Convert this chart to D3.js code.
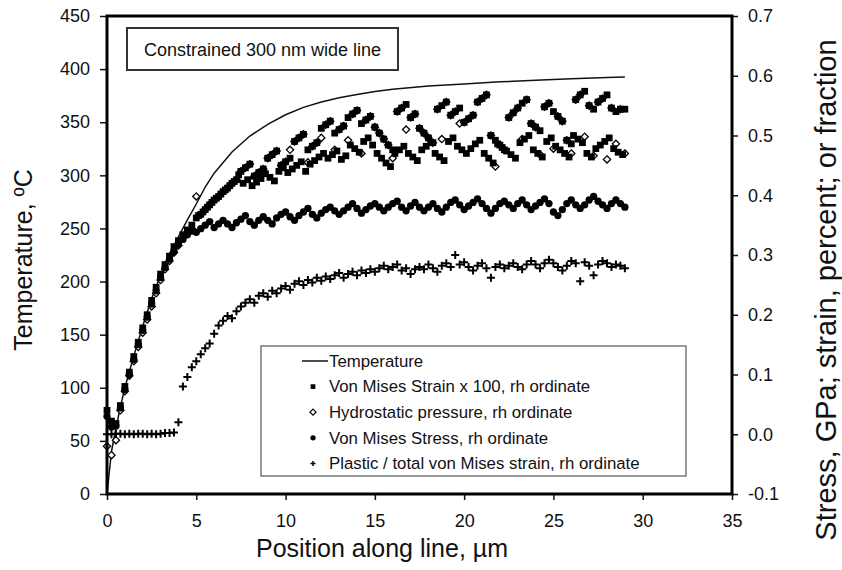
<!DOCTYPE html>
<html>
<head>
<meta charset="utf-8">
<script src="https://cdn.jsdelivr.net/npm/d3@7"></script>
<style>
  body { margin: 0; background: #fff; }
  text { font-family: "Liberation Sans", Arial, sans-serif; fill: #111; }
</style>
</head>
<body>
<div id="chart"></div>
<script>
// axis ticks
const xTicks = [0, 5, 10, 15, 20, 25, 30, 35];
const leftTicks = [0, 50, 100, 150, 200, 250, 300, 350, 400, 450];
const rightTicks = [-0.1, 0.0, 0.1, 0.2, 0.3, 0.4, 0.5, 0.6, 0.7];

// temperature curve (left ordinate)
const tempPos = [0, 0.25, 0.5, 0.75, 1, 1.5, 2, 2.5, 3, 3.5, 4, 4.5, 5, 5.5, 6, 7, 8, 9, 10, 11,
  12, 13, 14, 15, 16, 18, 20, 22, 24, 26, 28, 29];
const tempValues = [0, 40, 62, 82, 100, 130, 158, 184, 206, 226, 242, 258, 273, 289, 302, 322, 337, 348, 357, 364,
  369, 373, 376, 379, 381, 384, 386, 388, 389.5, 391, 392, 392.5];

// node positions along the line, um
const positions = [0, 0.25, 0.5, 0.75, 1, 1.25, 1.5, 1.75, 2, 2.25,
  2.5, 2.75, 3, 3.25, 3.5, 3.75, 4, 4.25, 4.5, 4.75,
  5, 5.25, 5.5, 5.75, 6, 6.25, 6.5, 6.75, 7, 7.25,
  7.5, 7.75, 8, 8.25, 8.5, 8.75, 9, 9.25, 9.5, 9.75,
  10, 10.25, 10.5, 10.75, 11, 11.25, 11.5, 11.75, 12, 12.25,
  12.5, 12.75, 13, 13.25, 13.5, 13.75, 14, 14.25, 14.5, 14.75,
  15, 15.25, 15.5, 15.75, 16, 16.25, 16.5, 16.75, 17, 17.25,
  17.5, 17.75, 18, 18.25, 18.5, 18.75, 19, 19.25, 19.5, 19.75,
  20, 20.25, 20.5, 20.75, 21, 21.25, 21.5, 21.75, 22, 22.25,
  22.5, 22.75, 23, 23.25, 23.5, 23.75, 24, 24.25, 24.5, 24.75,
  25, 25.25, 25.5, 25.75, 26, 26.25, 26.5, 26.75, 27, 27.25,
  27.5, 27.75, 28, 28.25, 28.5, 28.75, 29];

// extra strain nodes between the main ones (beyond 5 um)
const midPositions = [5.125, 5.375, 5.625, 5.875, 6.125, 6.375, 6.625, 6.875, 7.125, 7.375,
  7.625, 7.875, 8.125, 8.375, 8.625, 8.875, 9.125, 9.375, 9.625, 9.875,
  10.125, 10.375, 10.625, 10.875, 11.125, 11.375, 11.625, 11.875, 12.125, 12.375,
  12.625, 12.875, 13.125, 13.375, 13.625, 13.875, 14.125, 14.375, 14.625, 14.875,
  15.125, 15.375, 15.625, 15.875, 16.125, 16.375, 16.625, 16.875, 17.125, 17.375,
  17.625, 17.875, 18.125, 18.375, 18.625, 18.875, 19.125, 19.375, 19.625, 19.875,
  20.125, 20.375, 20.625, 20.875, 21.125, 21.375, 21.625, 21.875, 22.125, 22.375,
  22.625, 22.875, 23.125, 23.375, 23.625, 23.875, 24.125, 24.375, 24.625, 24.875,
  25.125, 25.375, 25.625, 25.875, 26.125, 26.375, 26.625, 26.875, 27.125, 27.375,
  27.625, 27.875, 28.125, 28.375, 28.625, 28.875];

// von mises strain x 100 (rh ordinate)
const strainValues = [0.040, 0.022, 0.018, 0.048, 0.080, 0.104, 0.130, 0.154, 0.178, 0.200,
  0.224, 0.246, 0.268, 0.284, 0.298, 0.314, 0.324, 0.334, 0.342, 0.350,
  0.362, 0.368, 0.376, 0.384, 0.392, 0.398, 0.406, 0.412, 0.420, 0.426,
  0.440, 0.446, 0.452, 0.432, 0.438, 0.444, 0.462, 0.468, 0.474, 0.450,
  0.456, 0.462, 0.490, 0.496, 0.502, 0.476, 0.482, 0.488, 0.512, 0.518,
  0.524, 0.504, 0.510, 0.516, 0.530, 0.536, 0.542, 0.520, 0.526, 0.532,
  0.514, 0.504, 0.494, 0.484, 0.476, 0.540, 0.546, 0.552, 0.530, 0.536,
  0.512, 0.504, 0.496, 0.488, 0.544, 0.550, 0.556, 0.534, 0.540, 0.546,
  0.522, 0.528, 0.534, 0.556, 0.562, 0.568, 0.500, 0.492, 0.484, 0.476,
  0.530, 0.538, 0.546, 0.554, 0.560, 0.520, 0.514, 0.508, 0.548, 0.554,
  0.540, 0.532, 0.524, 0.492, 0.486, 0.560, 0.568, 0.574, 0.550, 0.544,
  0.556, 0.562, 0.568, 0.546, 0.540, 0.544, 0.544];
const strainMidValues = [0.366, 0.372, 0.380, 0.388, 0.395, 0.402, 0.409, 0.416, 0.423, 0.434,
  0.420, 0.426, 0.416, 0.422, 0.428, 0.436, 0.430, 0.424, 0.440, 0.446,
  0.438, 0.444, 0.450, 0.456, 0.440, 0.452, 0.458, 0.464, 0.470, 0.462,
  0.468, 0.474, 0.460, 0.466, 0.484, 0.478, 0.472, 0.490, 0.496, 0.484,
  0.470, 0.462, 0.454, 0.448, 0.470, 0.476, 0.482, 0.470, 0.464, 0.458,
  0.476, 0.482, 0.488, 0.470, 0.464, 0.458, 0.490, 0.496, 0.482, 0.476,
  0.470, 0.478, 0.486, 0.492, 0.470, 0.462, 0.454, 0.486, 0.480, 0.474,
  0.468, 0.462, 0.488, 0.494, 0.500, 0.476, 0.470, 0.464, 0.490, 0.496,
  0.482, 0.476, 0.470, 0.464, 0.500, 0.494, 0.488, 0.470, 0.464, 0.478,
  0.484, 0.490, 0.496, 0.478, 0.472, 0.468];

// hydrostatic pressure (rh ordinate)
const pressureValues = [-0.020, -0.035, -0.010, 0.040, 0.072, 0.098, 0.122, 0.146, 0.170, 0.192,
  0.214, 0.236, 0.258, 0.276, 0.290, 0.304, 0.316, 0.328, 0.336, 0.344,
  0.398, 0.368, 0.376, 0.384, 0.392, 0.398, 0.406, 0.412, 0.420, 0.426,
  0.440, 0.446, 0.452, 0.432, 0.438, 0.444, 0.462, 0.468, 0.474, 0.450,
  0.456, 0.476, 0.490, 0.496, 0.502, 0.455, 0.482, 0.488, 0.496, 0.518,
  0.524, 0.476, 0.510, 0.516, 0.492, 0.536, 0.542, 0.470, 0.526, 0.532,
  0.514, 0.504, 0.494, 0.484, 0.462, 0.540, 0.546, 0.510, 0.530, 0.536,
  0.512, 0.504, 0.496, 0.488, 0.544, 0.494, 0.556, 0.534, 0.540, 0.520,
  0.522, 0.528, 0.534, 0.556, 0.562, 0.568, 0.500, 0.448, 0.484, 0.476,
  0.530, 0.538, 0.546, 0.494, 0.560, 0.520, 0.514, 0.468, 0.548, 0.554,
  0.478, 0.532, 0.524, 0.492, 0.470, 0.560, 0.568, 0.498, 0.550, 0.466,
  0.556, 0.562, 0.460, 0.546, 0.486, 0.544, 0.470];

// von mises stress, GPa (rh ordinate)
const stressValues = [0.030, 0.012, 0.014, 0.044, 0.075, 0.100, 0.125, 0.150, 0.174, 0.196,
  0.218, 0.240, 0.262, 0.279, 0.293, 0.306, 0.318, 0.326, 0.334, 0.340,
  0.338, 0.344, 0.350, 0.356, 0.346, 0.352, 0.358, 0.352, 0.346, 0.354,
  0.360, 0.366, 0.356, 0.350, 0.358, 0.364, 0.358, 0.352, 0.362, 0.368,
  0.372, 0.364, 0.358, 0.366, 0.372, 0.378, 0.368, 0.362, 0.370, 0.376,
  0.380, 0.374, 0.368, 0.374, 0.380, 0.386, 0.378, 0.370, 0.376, 0.382,
  0.386, 0.380, 0.374, 0.380, 0.386, 0.390, 0.380, 0.374, 0.382, 0.388,
  0.380, 0.374, 0.380, 0.386, 0.378, 0.372, 0.380, 0.388, 0.392, 0.384,
  0.376, 0.382, 0.388, 0.394, 0.386, 0.378, 0.370, 0.378, 0.386, 0.390,
  0.384, 0.378, 0.386, 0.392, 0.384, 0.376, 0.382, 0.388, 0.394, 0.386,
  0.372, 0.366, 0.376, 0.386, 0.392, 0.384, 0.378, 0.384, 0.392, 0.398,
  0.390, 0.384, 0.378, 0.386, 0.392, 0.386, 0.380];

// plastic / total von mises strain (rh ordinate)
const plasticValues = [0.000, 0.000, 0.001, 0.001, 0.000, 0.001, 0.000, 0.001, 0.001, 0.000,
  0.001, 0.000, 0.001, 0.002, 0.002, 0.003, 0.020, 0.080, 0.096, 0.112,
  0.122, 0.134, 0.144, 0.152, 0.168, 0.182, 0.190, 0.198, 0.194, 0.206,
  0.214, 0.220, 0.226, 0.220, 0.232, 0.236, 0.230, 0.240, 0.236, 0.244,
  0.248, 0.242, 0.252, 0.256, 0.250, 0.258, 0.254, 0.262, 0.257, 0.264,
  0.260, 0.266, 0.270, 0.262, 0.268, 0.272, 0.266, 0.274, 0.270, 0.276,
  0.272, 0.278, 0.282, 0.276, 0.280, 0.284, 0.274, 0.278, 0.268, 0.276,
  0.280, 0.276, 0.284, 0.278, 0.272, 0.282, 0.286, 0.280, 0.300, 0.284,
  0.288, 0.280, 0.274, 0.282, 0.286, 0.278, 0.262, 0.280, 0.284, 0.278,
  0.282, 0.286, 0.280, 0.276, 0.284, 0.290, 0.284, 0.278, 0.286, 0.292,
  0.286, 0.280, 0.274, 0.282, 0.290, 0.286, 0.256, 0.288, 0.282, 0.266,
  0.284, 0.290, 0.286, 0.280, 0.284, 0.282, 0.278];

const legendNames = ['Temperature', 'Von Mises Strain x 100, rh ordinate', 'Hydrostatic pressure, rh ordinate',
  'Von Mises Stress, rh ordinate', 'Plastic / total von Mises strain, rh ordinate'];

// plot box
const plot = { left: 107, right: 732, top: 16, bottom: 494 };

const svg = d3.select('#chart')
  .append('svg')
  .attr('width', 842)
  .attr('height', 570);

// scales
const x = d3.scaleLinear().domain([0, 35]).range([plot.left, plot.right]);
const yLeft = d3.scaleLinear().domain([0, 450]).range([plot.bottom, plot.top]);
const yRight = d3.scaleLinear().domain([-0.1, 0.7]).range([plot.bottom, plot.top]);

// axes
const styleAxis = g => {
  g.select('.domain').remove();
  g.selectAll('.tick line').attr('stroke', '#111').attr('stroke-width', 1.5);
  g.selectAll('.tick text').attr('font-size', 18).attr('fill', '#111');
};
svg.append('g')
  .attr('transform', `translate(${plot.left},0)`)
  .call(d3.axisLeft(yLeft).tickValues(leftTicks).tickSize(7).tickPadding(10))
  .call(styleAxis);
svg.append('g')
  .attr('transform', `translate(0,${plot.bottom})`)
  .call(d3.axisBottom(x).tickValues(xTicks).tickSize(6).tickPadding(14))
  .call(styleAxis);
svg.append('g')
  .attr('transform', `translate(${plot.right},0)`)
  .call(d3.axisRight(yRight).tickValues(rightTicks).tickSize(6).tickPadding(10).tickFormat(d => d.toFixed(1)))
  .call(styleAxis);

// axis titles
svg.append('text')
  .attr('transform', 'translate(32,260) rotate(-90)')
  .attr('text-anchor', 'middle')
  .attr('font-size', 25)
  .text('Temperature, ºC');
svg.append('text')
  .attr('x', 382)
  .attr('y', 557)
  .attr('text-anchor', 'middle')
  .attr('font-size', 25)
  .text('Position along line, µm');
svg.append('text')
  .attr('transform', 'translate(836,290) rotate(-90)')
  .attr('text-anchor', 'middle')
  .attr('font-size', 29)
  .text('Stress, GPa; strain, percent; or fraction');

// marker shapes
const squareSym = d3.symbol().type(d3.symbolSquare).size(46);
const circleSym = d3.symbol().type(d3.symbolCircle).size(42);
const diamondPath = 'M0,-3.6L3.6,0L0,3.6L-3.6,0Z';
const crossPath = 'M-4,0H4M0,-4V4';

const graph = svg.append('g').attr('class', 'data');

// temperature line
const tempLine = d3.line()
  .x((d, i) => x(tempPos[i]))
  .y(d => yLeft(d));
graph.append('path')
  .datum(tempValues)
  .attr('d', tempLine)
  .attr('fill', 'none')
  .attr('stroke', '#111')
  .attr('stroke-width', 1.5);

// scatter series on the right ordinate
const drawSeries = (xs, values, cls, draw) => {
  graph.selectAll(`.${cls}`)
    .data(values)
    .enter()
    .append('path')
    .attr('class', cls)
    .attr('transform', (d, i) => `translate(${x(xs[i])},${yRight(d)})`)
    .call(draw);
};
drawSeries(positions, pressureValues, 'pressure', s => s.attr('d', diamondPath).attr('fill', '#fff').attr('stroke', '#000').attr('stroke-width', 1.3));
drawSeries(positions, strainValues, 'strain', s => s.attr('d', squareSym()).attr('fill', '#000'));
drawSeries(midPositions, strainMidValues, 'strain-mid', s => s.attr('d', squareSym()).attr('fill', '#000'));
drawSeries(positions, stressValues, 'stress', s => s.attr('d', circleSym()).attr('fill', '#000'));
drawSeries(positions, plasticValues, 'plastic', s => s.attr('d', crossPath).attr('fill', 'none').attr('stroke', '#000').attr('stroke-width', 2));

// frame
svg.append('rect')
  .attr('x', plot.left)
  .attr('y', plot.top)
  .attr('width', plot.right - plot.left)
  .attr('height', plot.bottom - plot.top)
  .attr('fill', 'none')
  .attr('stroke', '#000')
  .attr('stroke-width', 3);

// title box
svg.append('rect')
  .attr('x', 127)
  .attr('y', 28)
  .attr('width', 271)
  .attr('height', 42)
  .attr('fill', '#fff')
  .attr('stroke', '#333')
  .attr('stroke-width', 2);
svg.append('text')
  .attr('x', 262.5)
  .attr('y', 55.5)
  .attr('text-anchor', 'middle')
  .attr('font-size', 18)
  .text('Constrained 300 nm wide line');

// legend
const legend = svg.append('g').attr('class', 'legend');
legend.append('rect')
  .attr('x', 261)
  .attr('y', 346)
  .attr('width', 425)
  .attr('height', 130)
  .attr('fill', '#fff')
  .attr('stroke', '#777')
  .attr('stroke-width', 1.5);
const rows = legend.selectAll('.legend-row')
  .data(legendNames)
  .enter()
  .append('g')
  .attr('class', 'legend-row')
  .attr('transform', (d, i) => `translate(313,${361 + i * 25.6})`);
rows.append('text')
  .attr('x', 16)
  .attr('dy', '0.35em')
  .attr('font-size', 16.8)
  .attr('fill', '#333')
  .text(d => d);
rows.filter((d, i) => i === 0).append('line')
  .attr('x1', -11).attr('x2', 15)
  .attr('stroke', '#111').attr('stroke-width', 1.5);
rows.filter((d, i) => i === 1).append('path')
  .attr('d', d3.symbol().type(d3.symbolSquare).size(22)())
  .attr('fill', '#000');
rows.filter((d, i) => i === 2).append('path')
  .attr('d', 'M0,-3L3,0L0,3L-3,0Z')
  .attr('fill', '#fff').attr('stroke', '#000').attr('stroke-width', 1.2);
rows.filter((d, i) => i === 3).append('path')
  .attr('d', d3.symbol().type(d3.symbolCircle).size(22)())
  .attr('fill', '#000');
rows.filter((d, i) => i === 4).append('path')
  .attr('d', 'M-2.5,0H2.5M0,-2.5V2.5')
  .attr('stroke', '#000').attr('stroke-width', 1.5);
</script>
</body>
</html>
